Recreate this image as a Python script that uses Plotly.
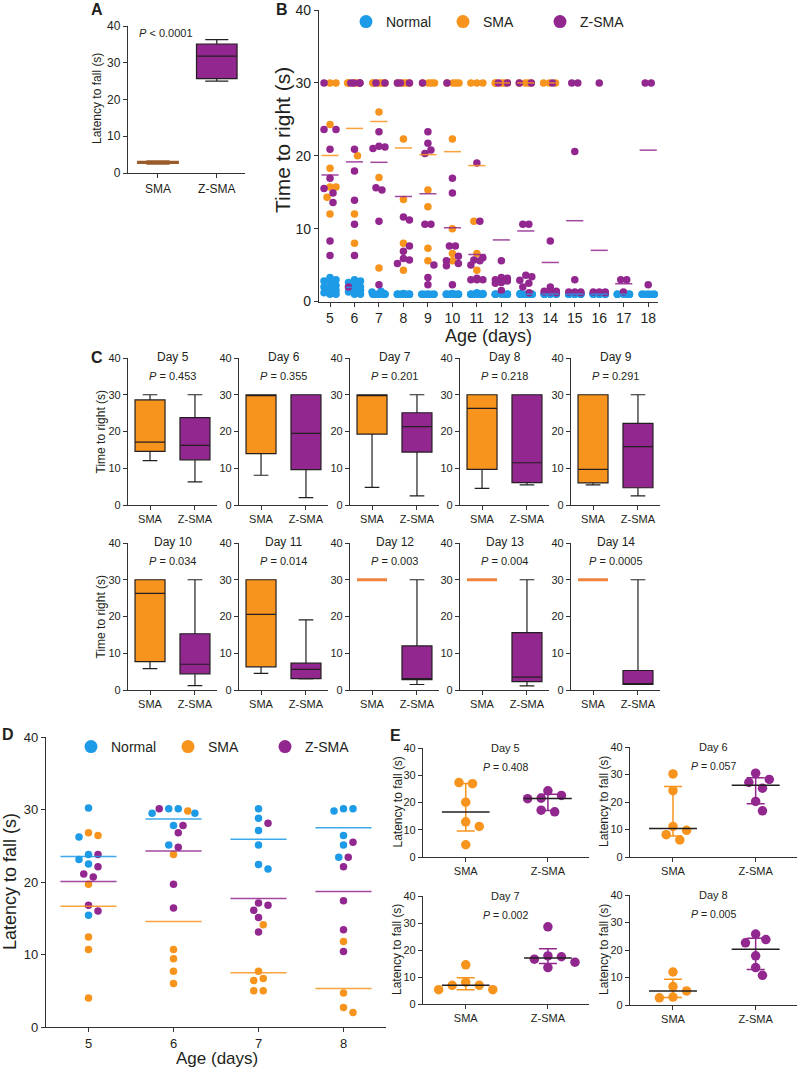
import math
import numpy as np
import plotly.graph_objects as go

W, H = 799, 1067
FONT = "Liberation Sans, Arial, sans-serif"
DARK = "#231F20"
AX = "#333333"
ORANGE = "#F7941D"
PURPLE = "#92278F"
BLUE = "#1E9BE6"
ORANGE_FLAT = "#F0843C"

# ---------------- data ----------------
# Panel A: latency to fall (box summaries)
a_groups = ["SMA", "Z-SMA"]
a_low = [2.4, 25.0]
a_q1 = [2.6, 25.7]
a_median = [2.9, 31.8]
a_q3 = [3.2, 35.1]
a_high = [3.3, 36.3]
a_p = "<i>P</i> < 0.0001"

# Panel B: time to right per animal, by age
b_days = [5, 6, 7, 8, 9, 10, 11, 12, 13, 14, 15, 16, 17, 18]
b_normal = [
    [3.3, 3.0, 2.8, 2.6, 2.2, 2.0, 1.8, 1.5, 1.2, 1.0, 1.0],
    [3.0, 2.8, 2.6, 2.3, 2.0, 1.8, 1.5, 1.3, 1.0, 1.0],
    [1.4, 1.3, 1.1, 1.0, 1.0, 1.0, 1.0, 1.0, 1.0, 1.0],
    [1.1, 1.0, 1.0, 1.0, 1.0, 1.0, 1.0, 1.0, 1.0, 1.0],
    [1.0, 1.0, 1.0, 1.0, 1.0, 1.0, 1.0, 1.0],
    [1.1, 1.0, 1.0, 1.0, 1.0, 1.0, 1.0, 1.0, 1.0, 1.0],
    [1.2, 1.1, 1.0, 1.0, 1.0, 1.0, 1.0, 1.0, 1.0, 1.0],
    [1.0, 1.0, 1.0, 1.0, 1.0, 1.0, 1.0, 1.0],
    [1.1, 1.0, 1.0, 1.0, 1.0, 1.0, 1.0, 1.0],
    [1.2, 1.0, 1.0, 1.0, 1.0, 1.0, 1.0, 1.0],
    [1.1, 1.0, 1.0, 1.0, 1.0, 1.0, 1.0, 1.0, 1.0, 1.0],
    [1.1, 1.0, 1.0, 1.0, 1.0, 1.0, 1.0, 1.0, 1.0, 1.0],
    [1.0, 1.0, 1.0, 1.0, 1.0, 1.0, 1.0, 1.0],
    [1.0, 1.0, 1.0, 1.0, 1.0, 1.0, 1.0, 1.0],
]
b_sma = [
    [30, 30, 24.3, 18.3, 15.7, 15.7, 14.3, 12.0],
    [30, 30, 30, 30, 30, 20.0, 12.0, 8.0],
    [30, 30, 30, 30, 30, 26.0, 17.0, 4.6],
    [30, 30, 30, 30, 22.3, 14.0, 8.0, 4.3],
    [30, 30, 30, 30, 15.3, 13.0, 7.3, 5.6],
    [30, 30, 30, 30, 22.3, 10.0, 6.6, 5.6],
    [30, 30, 30, 11.0, 6.6, 4.3],
    [30, 30, 30, 30, 30],
    [30, 30, 30, 30],
    [30, 30, 30],
    [],
    [],
    [],
    [],
]
b_zsma = [
    [30, 23.6, 23.6, 20.9, 16.9, 15.5, 14.9, 13.6, 8.3, 6.3],
    [30, 30, 30, 30, 20.9, 17.9, 13.9, 10.6, 6.3, 2.0],
    [30, 30, 23.3, 21.3, 21.2, 21.0, 15.6, 15.3, 11.0, 2.3],
    [30, 30, 30, 11.6, 11.2, 7.6, 6.9, 5.9, 5.7, 5.2],
    [30, 23.3, 21.7, 20.8, 20.3, 10.6, 10.6, 5.0, 3.3, 2.3],
    [30, 16.9, 14.9, 7.6, 7.6, 6.2, 5.6, 5.2, 4.9, 2.3],
    [19.0, 11.0, 6.0, 5.7, 5.6, 5.0, 3.2, 3.0, 3.0, 3.0],
    [30, 30, 5.6, 3.3, 3.2, 3.0, 2.8, 2.6, 2.5, 1.5],
    [30, 30, 10.6, 10.6, 3.6, 3.4, 2.9, 2.5, 2.0, 1.2],
    [30, 8.3, 2.0, 1.4, 1.4, 1.3, 1.3, 1.3, 1.2],
    [30, 30, 20.6, 3.0, 1.3, 1.3, 1.3, 1.2],
    [30, 1.3, 1.3, 1.3, 1.2],
    [3.0, 3.0, 1.3],
    [30, 30, 2.3],
]

# Panel C: box summaries, days 5-14
c_days = [5, 6, 7, 8, 9, 10, 11, 12, 13, 14]
c_p = ["0.453", "0.355", "0.201", "0.218", "0.291", "0.034", "0.014", "0.003", "0.004", "0.0005"]
c_sma_low = [12.1, 8.1, 4.8, 4.5, 5.5, 5.8, 4.5, 30, 30, 30]
c_sma_q1 = [14.6, 14.0, 19.3, 9.7, 6.0, 7.7, 6.3, 30, 30, 30]
c_sma_med = [17.1, 30, 30, 26.3, 9.7, 26.3, 20.6, 30, 30, 30]
c_sma_q3 = [28.6, 30, 30, 30, 30, 30, 30, 30, 30, 30]
c_sma_high = [30, 30, 30, 30, 30, 30, 30, 30, 30, 30]
c_z_low = [6.3, 2.0, 2.5, 5.5, 2.5, 1.2, 3.0, 1.5, 1.1, 1.5]
c_z_q1 = [12.3, 9.6, 14.4, 6.1, 4.7, 4.4, 3.1, 2.8, 2.3, 1.5]
c_z_med = [16.2, 19.5, 21.3, 11.5, 15.9, 7.0, 5.6, 3.1, 3.5, 1.5]
c_z_q3 = [23.8, 30, 25.1, 30, 22.2, 15.3, 7.3, 12.0, 15.6, 5.3]
c_z_high = [30, 30, 30, 30, 30, 30, 19.1, 30, 30, 30]

# Panel D: latency to fall per animal
d_days = [5, 6, 7, 8]
d_normal = [[30.2, 26.2, 23.8, 23.1, 22.5, 15.4],
            [30.1, 30.1, 29.5, 29.5, 27.8, 25.1],
            [30.1, 28.8, 27.1, 25.1, 22.4, 21.8],
            [30.1, 30.1, 29.8, 26.4, 25.1, 23.4]]
d_sma = [[26.8, 26.4, 19.7, 12.4, 10.7, 4.0],
         [29.8, 23.8, 10.7, 9.4, 7.7, 6.0],
         [14.1, 7.7, 6.7, 6.4, 5.0, 5.0],
         [11.8, 4.7, 2.7, 2.0]]
d_zsma = [[23.8, 22.1, 21.1, 20.7, 16.8, 16.0],
          [30.1, 27.8, 26.8, 24.8, 19.7, 16.4],
          [28.1, 17.1, 16.8, 16.1, 15.1, 13.1],
          [25.5, 23.4, 22.1, 17.4, 13.4, 10.4]]

# Panel E: latency to fall, SMA vs Z-SMA
e_days = [5, 6, 7, 8]
e_p = ["0.408", "0.057", "0.002", "0.005"]
e_sma = [[27.3, 26.9, 20.1, 12.9, 11.2, 4.5],
         [30.2, 24.1, 11.1, 9.7, 8.1, 6.2],
         [14.5, 8.1, 6.9, 6.9, 5.3, 5.3],
         [12.0, 6.7, 5.1, 2.9, 2.6]]
e_zsma = [[24.3, 22.6, 21.6, 21.4, 17.2, 16.6],
          [30.5, 28.2, 27.1, 25.0, 20.2, 16.8],
          [28.6, 17.8, 17.5, 16.6, 15.5, 13.5],
          [25.8, 23.8, 22.6, 17.9, 13.6, 10.8]]

# ---------------- helpers ----------------
def swarm(vals, ppx, ppy, diam, step, maxoff):
    """Beeswarm-style horizontal offsets (in x data units)."""
    n = len(vals)
    if n == 0:
        return []
    ys = [v * ppy for v in vals]
    order = sorted(range(n), key=lambda i: -vals[i])
    cands = [0.0]
    k = 1
    while k * step <= maxoff + 1e-9:
        cands += [k * step, -k * step]
        k += 1
    xs = [0.0] * n
    placed = []

    def cost_at(i, c, others):
        return sum(max(0.0, diam - math.hypot(c - xs[j], ys[i] - ys[j])) for j in others)

    for i in order:
        best, bc = None, None
        for c in cands:
            cst = cost_at(i, c, placed)
            if cst <= 1e-9:
                best, bc = c, 0
                break
            if bc is None or cst < bc - 1e-9:
                best, bc = c, cst
        xs[i] = best
        placed.append(i)
    rows, cur = [], [order[0]]
    for a, b in zip(order, order[1:]):
        if ys[cur[0]] - ys[b] < 0.35 * diam:
            cur.append(b)
        else:
            rows.append(cur)
            cur = [b]
    rows.append(cur)
    for row in rows:
        if len(row) < 2:
            continue
        m = sum(xs[i] for i in row) / len(row)
        if abs(m) < 1e-9:
            continue
        others = [j for j in range(n) if j not in row]
        before = sum(cost_at(i, xs[i], others) for i in row)
        after = sum(cost_at(i, xs[i] - m, others) for i in row)
        if after <= before + 1e-6:
            for i in row:
                xs[i] -= m
    return [x / ppx for x in xs]


fig = go.Figure()
layout_axes = {}
annotations = []
axis_n = [0]


def add_axes(x0, x1, ytop, ybot, xrange, tickfont, xtickvals=None, xticktext=None):
    axis_n[0] += 1
    n = axis_n[0]
    sfx = "" if n == 1 else str(n)
    common = dict(showline=True, linecolor=AX, linewidth=1.3, ticks="outside", ticklen=4,
                  tickwidth=1.2, tickcolor=AX, showgrid=False, zeroline=False, fixedrange=True,
                  tickfont=dict(family=FONT, size=tickfont, color=DARK))
    xa = dict(domain=[x0 / W, x1 / W], anchor="y" + sfx, range=list(xrange), **common)
    if xtickvals is not None:
        xa["tickvals"] = xtickvals
        xa["ticktext"] = xticktext
    layout_axes["xaxis" + sfx] = xa
    layout_axes["yaxis" + sfx] = dict(domain=[1 - ybot / H, 1 - ytop / H], anchor="x" + sfx,
                                      range=[0, 40], tickvals=[0, 10, 20, 30, 40], **common)
    return "x" + sfx, "y" + sfx


def ann(text, x, y, size, bold=False, angle=0, xanchor="center"):
    annotations.append(dict(text=("<b>%s</b>" % text) if bold else text, x=x / W, y=1 - y / H,
                            xref="paper", yref="paper", showarrow=False, textangle=angle,
                            xanchor=xanchor, yanchor="middle",
                            font=dict(family=FONT, size=size, color=DARK)))


def mean_lines(days, groups, half):
    xs, ys = [], []
    for d, g in zip(days, groups):
        if len(g):
            m = float(np.mean(g))
            xs += [d - half, d + half, None]
            ys += [m, m, None]
    return xs, ys


# ---------------- Panel A ----------------
xr, yr = add_axes(128, 245, 26, 173, (-0.51, 1.48), 12, [0, 1], a_groups)
for gi, (col, lc) in enumerate([(ORANGE, "#9A5B2A"), (PURPLE, DARK)]):
    fig.add_trace(go.Box(x=[gi], lowerfence=[a_low[gi]], q1=[a_q1[gi]], median=[a_median[gi]],
                         q3=[a_q3[gi]], upperfence=[a_high[gi]], width=0.69, whiskerwidth=0.57,
                         fillcolor=col, line=dict(color=lc, width=1.2), boxpoints=False,
                         xaxis=xr, yaxis=yr, showlegend=False, hoverinfo="skip"))
ann("A", 97, 10, 16, bold=True)
ann(a_p, 166, 33, 11)
ann("Latency to fall (s)", 97, 99, 12, angle=-90)

# ---------------- Panel B ----------------
xr, yr = add_axes(319, 658, 10, 301.5, (4.55, 18.4), 14, b_days, [str(d) for d in b_days])
bx = {"n": [], "s": [], "z": []}
by = {"n": [], "s": [], "z": []}
for d, gn, gs, gz in zip(b_days, b_normal, b_sma, b_zsma):
    vals = list(gn) + list(gs) + list(gz)
    offs = swarm(vals, 24.5, 7.29, 7.0, 3.0, 6.0)
    tags = ["n"] * len(gn) + ["s"] * len(gs) + ["z"] * len(gz)
    for v, o, t in zip(vals, offs, tags):
        bx[t].append(d + o)
        by[t].append(v)
for t, col in [("n", BLUE), ("s", ORANGE), ("z", PURPLE)]:
    fig.add_trace(go.Scatter(x=bx[t], y=by[t], mode="markers", xaxis=xr, yaxis=yr,
                             marker=dict(size=7.5, color=col, line=dict(width=0)),
                             showlegend=False, hoverinfo="skip"))
for grp, col in [(b_normal, BLUE), (b_sma, ORANGE), (b_zsma, PURPLE)]:
    mx, my = mean_lines(b_days, grp, 0.35)
    fig.add_trace(go.Scatter(x=mx, y=my, mode="lines", xaxis=xr, yaxis=yr, opacity=0.85,
                             line=dict(color=col, width=1.5), showlegend=False, hoverinfo="skip"))
for name, col in [("Normal", BLUE), ("SMA", ORANGE), ("Z-SMA", PURPLE)]:
    fig.add_trace(go.Scatter(x=[None], y=[None], mode="markers", name=name, legend="legend",
                             marker=dict(size=13, color=col), xaxis=xr, yaxis=yr))
ann("B", 282, 10, 16, bold=True)
ann("Time to right (s)", 282, 140, 21, angle=-90)
ann("Age (days)", 488.5, 336, 18)

# ---------------- Panel C ----------------
C_X0 = [128, 239, 350, 460, 571]
C_YTOP = [358, 543]
for i, day in enumerate(c_days):
    row, col = divmod(i, 5)
    x0 = C_X0[col]
    yt = C_YTOP[row]
    xr, yr = add_axes(x0, x0 + 89, yt, yt + 147, (-0.49, 1.49), 11, [0, 1], ["SMA", "Z-SMA"])
    groups = [(c_sma_low, c_sma_q1, c_sma_med, c_sma_q3, c_sma_high, ORANGE),
              (c_z_low, c_z_q1, c_z_med, c_z_q3, c_z_high, PURPLE)]
    for gi, (lo, q1, md, q3, hi, fc) in enumerate(groups):
        flat = q1[i] == q3[i]
        fig.add_trace(go.Box(x=[gi], lowerfence=[lo[i]], q1=[q1[i]], median=[md[i]], q3=[q3[i]],
                             upperfence=[hi[i]], width=0.667, whiskerwidth=0.49, fillcolor=fc,
                             line=dict(color=ORANGE_FLAT if flat else DARK, width=3.2 if flat else 1.2),
                             boxpoints=False, xaxis=xr, yaxis=yr, showlegend=False, hoverinfo="skip"))
    cx = x0 + 44.5
    ann("Day %d" % day, cx, yt - 1, 12)
    ann("<i>P</i> = %s" % c_p[i], cx, yt + 18, 11)
    if col == 0:
        ann("Time to right (s)", 100, yt + 73.5, 12, angle=-90)
ann("C", 97, 357, 16, bold=True)

# ---------------- Panel D ----------------
xr, yr = add_axes(46, 386, 737, 1027, (4.5, 8.5), 13, d_days, [str(d) for d in d_days])
dx = {"n": [], "s": [], "z": []}
dy = {"n": [], "s": [], "z": []}
for d, gn, gs, gz in zip(d_days, d_normal, d_sma, d_zsma):
    vals = list(gn) + list(gs) + list(gz)
    offs = swarm(vals, 85.0, 7.25, 8.5, 4.75, 28.0)
    tags = ["n"] * len(gn) + ["s"] * len(gs) + ["z"] * len(gz)
    for v, o, t in zip(vals, offs, tags):
        dx[t].append(d + o)
        dy[t].append(v)
for t, col in [("n", BLUE), ("s", ORANGE), ("z", PURPLE)]:
    fig.add_trace(go.Scatter(x=dx[t], y=dy[t], mode="markers", xaxis=xr, yaxis=yr,
                             marker=dict(size=7.5, color=col, line=dict(width=0)),
                             showlegend=False, hoverinfo="skip"))
for grp, col in [(d_normal, BLUE), (d_sma, ORANGE), (d_zsma, PURPLE)]:
    mx, my = mean_lines(d_days, grp, 0.33)
    fig.add_trace(go.Scatter(x=mx, y=my, mode="lines", xaxis=xr, yaxis=yr, opacity=0.85,
                             line=dict(color=col, width=1.5), showlegend=False, hoverinfo="skip"))
for name, col in [("Normal", BLUE), ("SMA", ORANGE), ("Z-SMA", PURPLE)]:
    fig.add_trace(go.Scatter(x=[None], y=[None], mode="markers", name=name, legend="legend2",
                             marker=dict(size=13, color=col), xaxis=xr, yaxis=yr))
ann("D", 8, 734, 16, bold=True)
ann("Latency to fall (s)", 10, 882, 18, angle=-90)
ann("Age (days)", 217, 1058, 17)

# ---------------- Panel E ----------------
E_BOX = [(423, 589, 748, 857), (630, 797, 747, 857), (423, 589, 896, 1004), (630, 797, 895, 1005)]
for i, day in enumerate(e_days):
    x0, x1, yt, yb = E_BOX[i]
    xr, yr = add_axes(x0, x1, yt, yb, (-0.52, 1.5), 11, [0, 1], ["SMA", "Z-SMA"])
    ppy = (yb - yt) / 40.0
    for gi, (vals, col) in enumerate([(e_sma[i], ORANGE), (e_zsma[i], PURPLE)]):
        q1, med, q3 = np.percentile(vals, [25, 50, 75], method="weibull")
        fig.add_trace(go.Scatter(x=[gi], y=[med], mode="markers", xaxis=xr, yaxis=yr,
                                 marker=dict(size=1, color="rgba(0,0,0,0)"),
                                 error_y=dict(type="data", symmetric=False, array=[q3 - med],
                                              arrayminus=[med - q1], color=col, thickness=1.5, width=9),
                                 showlegend=False, hoverinfo="skip"))
        offs = swarm(vals, 82.0, ppy, 9.5, 6.75, 27.0)
        fig.add_trace(go.Scatter(x=[gi + o for o in offs], y=vals, mode="markers", xaxis=xr, yaxis=yr,
                                 marker=dict(size=9.5, color=col, line=dict(width=0)),
                                 showlegend=False, hoverinfo="skip"))
        fig.add_trace(go.Scatter(x=[gi - 0.29, gi + 0.29], y=[med, med], mode="lines", xaxis=xr, yaxis=yr,
                                 line=dict(color=DARK, width=1.5), showlegend=False, hoverinfo="skip"))
    cx = (x0 + x1) / 2
    ann("Day %d" % day, cx, yt, 11)
    ann("<i>P</i> = %s" % e_p[i], cx, yt + 18.5, 10.5)
    ann("Latency to fall (s)", x0 - 26, (yt + yb) / 2, 12, angle=-90)
ann("E", 395, 735, 16, bold=True)

legend_common = dict(orientation="h", xanchor="left", yanchor="middle", bgcolor="rgba(0,0,0,0)",
                     borderwidth=0, itemsizing="trace", entrywidthmode="pixels", entrywidth=52,
                     font=dict(family=FONT, size=14, color=DARK))
fig.update_layout(
    width=W, height=H, margin=dict(l=0, r=0, t=0, b=0, pad=0, autoexpand=False),
    paper_bgcolor="white", plot_bgcolor="white", boxmode="overlay",
    font=dict(family=FONT, color=DARK),
    annotations=annotations,
    legend=dict(x=346 / W, y=1 - 22 / H, **legend_common),
    legend2=dict(x=71 / W, y=1 - 747 / H, **legend_common),
    **layout_axes,
)
fig.write_html("out.html", config={"displayModeBar": False},
               post_script="document.body.style.margin='0';document.body.style.overflow='hidden';")
